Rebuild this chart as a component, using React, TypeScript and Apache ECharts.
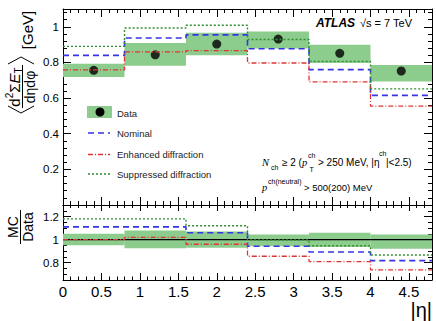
import React, { useEffect, useRef } from 'react';
import * as echarts from 'echarts';

const binEdges = [0, 0.8, 1.6, 2.4, 3.2, 4.0, 4.8];
const dataValues = [0.756, 0.843, 0.903, 0.931, 0.851, 0.752];
const bandLow = [0.719, 0.782, 0.84, 0.879, 0.797, 0.693];
const bandHigh = [0.793, 0.909, 0.967, 0.974, 0.9, 0.786];
const nominal = [0.84, 0.937, 0.955, 0.877, 0.76, 0.615];
const enhanced = [0.758, 0.859, 0.866, 0.797, 0.691, 0.555];
const suppressed = [0.89, 0.993, 1.009, 0.929, 0.806, 0.652];
const ratioBandLow = [0.952, 0.925, 0.93, 0.943, 0.937, 0.92];
const ratioBandHigh = [1.05, 1.08, 1.07, 1.045, 1.06, 1.045];
const ratioNominal = [1.11, 1.11, 1.06, 0.942, 0.893, 0.818];
const ratioEnhanced = [1.0, 1.02, 0.96, 0.856, 0.81, 0.738];
const ratioSuppressed = [1.18, 1.18, 1.12, 0.998, 0.947, 0.867];
const xTickLabels = ['0', '0.5', '1', '1.5', '2', '2.5', '3', '3.5', '4', '4.5'];
const ratioTicks = [0.8, 1, 1.2];

const FONT = 'Liberation Sans, Arial, Helvetica, sans-serif';
const BAND = '#8ccc8c';
const BLUE = '#3535e6';
const RED = '#e03434';
const GREEN = '#2f8f2f';

function stepPoints(vals: number[]) {
  const pts: number[][] = [];
  vals.forEach((v, i) => {
    pts.push([binEdges[i], v]);
    pts.push([binEdges[i + 1], v]);
  });
  return pts;
}

function bandItems(lo: number[], hi: number[]) {
  return lo.map((l, i) => [binEdges[i], binEdges[i + 1], l, hi[i]]);
}

const renderBand = (params: any, api: any) => {
  const p1 = api.coord([api.value(0), api.value(3)]);
  const p2 = api.coord([api.value(1), api.value(2)]);
  return {
    type: 'rect',
    shape: { x: p1[0], y: p1[1], width: p2[0] - p1[0], height: p2[1] - p1[1] },
    style: { fill: BAND },
  };
};

const axisLine = { show: true, onZero: false, lineStyle: { color: '#000', width: 1 } };

function xAxis(grid: number, pos: string, labels: boolean, tickLen: number) {
  return {
    type: 'value',
    gridIndex: grid,
    position: pos,
    min: 0,
    max: 4.8,
    interval: 0.5,
    axisLine,
    axisTick: { show: true, inside: true, length: tickLen, lineStyle: { color: '#000' } },
    minorTick: { show: true, splitNumber: 5, length: tickLen / 2, lineStyle: { color: '#000' } },
    splitLine: { show: false },
    axisLabel: labels
      ? {
          show: true,
          showMaxLabel: false,
          margin: 4,
          fontSize: 15,
          color: '#000',
          fontFamily: FONT,
          formatter: (v: number) => {
            const i = Math.round(v / 0.5);
            return Math.abs(v - i * 0.5) < 1e-6 && xTickLabels[i] !== undefined ? xTickLabels[i] : '';
          },
        }
      : { show: false },
  };
}

function line(name: string, data: number[][], color: string, dash: any, xi: number, yi: number, width = 1.5) {
  return {
    name,
    type: 'line',
    xAxisIndex: xi,
    yAxisIndex: yi,
    data,
    symbol: 'none',
    silent: true,
    lineStyle: { color, width, type: dash },
  };
}

export default function App() {
  const ref = useRef<HTMLDivElement>(null);
  useEffect(() => {
    document.body.style.margin = '0';
    if (!ref.current) return;
    const chart = echarts.init(ref.current, null, { renderer: 'svg' });
    const centers = dataValues.map((v, i) => [(binEdges[i] + binEdges[i + 1]) / 2, v]);
    const txt = (text: string, x: number, y: number, size: number, extra: any = {}) => ({
      type: 'text',
      x,
      y,
      silent: true,
      style: {
        text,
        fontSize: size,
        fontFamily: FONT,
        fill: '#000',
        textAlign: 'left',
        textVerticalAlign: 'middle',
        verticalAlign: 'middle',
        ...extra,
      },
    });
    const option: any = {
      animation: false,
      grid: [
        { left: 63, right: 4, top: 9, height: 196 },
        { left: 63, right: 4, top: 205, height: 75 },
      ],
      xAxis: [
        xAxis(0, 'bottom', false, 8),
        xAxis(0, 'top', false, 8),
        xAxis(1, 'bottom', true, 7),
        xAxis(1, 'top', false, 6),
      ],
      yAxis: [
        {
          type: 'value', gridIndex: 0, position: 'left', min: 0, max: 1.1, interval: 0.2,
          axisLine,
          axisTick: { show: true, inside: true, length: 8, lineStyle: { color: '#000' } },
          minorTick: { show: true, splitNumber: 5, length: 4, lineStyle: { color: '#000' } },
          splitLine: { show: false },
          axisLabel: { show: true, showMinLabel: false, showMaxLabel: false, margin: 4, fontSize: 11.5, color: '#000', fontFamily: FONT },
        },
        {
          type: 'value', gridIndex: 0, position: 'right', min: 0, max: 1.1, interval: 0.2,
          axisLine,
          axisTick: { show: true, inside: true, length: 8, lineStyle: { color: '#000' } },
          minorTick: { show: true, splitNumber: 5, length: 4, lineStyle: { color: '#000' } },
          splitLine: { show: false },
          axisLabel: { show: false },
        },
        {
          type: 'value', gridIndex: 1, position: 'left', min: 0.65, max: 1.3, interval: 0.05,
          axisLine,
          axisTick: { show: true, inside: true, length: 4, lineStyle: { color: '#000' } },
          splitLine: { show: false },
          axisLabel: { show: false },
        },
        {
          type: 'value', gridIndex: 1, position: 'right', min: 0.65, max: 1.3, interval: 0.05,
          axisLine,
          axisTick: { show: true, inside: true, length: 4, lineStyle: { color: '#000' } },
          splitLine: { show: false },
          axisLabel: { show: false },
        },
        {
          type: 'value', gridIndex: 1, position: 'left', min: 0.65, max: 1.3,
          axisLine: { show: false, onZero: false },
          axisTick: { show: true, inside: true, length: 8, customValues: ratioTicks, lineStyle: { color: '#000' } },
          splitLine: { show: false },
          axisLabel: {
            show: true, customValues: ratioTicks, margin: 4, fontSize: 11.5, color: '#000', fontFamily: FONT,
            formatter: (v: number) => String(Math.round(v * 10) / 10),
          },
        },
        {
          type: 'value', gridIndex: 1, position: 'right', min: 0.65, max: 1.3,
          axisLine: { show: false, onZero: false },
          axisTick: { show: true, inside: true, length: 8, customValues: ratioTicks, lineStyle: { color: '#000' } },
          splitLine: { show: false },
          axisLabel: { show: false },
        },
      ],
      series: [
        {
          type: 'custom', xAxisIndex: 0, yAxisIndex: 0, renderItem: renderBand,
          data: bandItems(bandLow, bandHigh), encode: { x: [0, 1], y: [2, 3] }, silent: true, clip: true,
        },
        line('Nominal', stepPoints(nominal), BLUE, [6, 4], 0, 0, 1.6),
        line('Enhanced diffraction', stepPoints(enhanced), RED, [5, 2, 1, 2], 0, 0, 1.3),
        line('Suppressed diffraction', stepPoints(suppressed), GREEN, [2, 2], 0, 0, 1.4),
        {
          name: 'Data', type: 'scatter', xAxisIndex: 0, yAxisIndex: 0, data: centers,
          symbol: 'circle', symbolSize: 9, itemStyle: { color: '#000' }, silent: true,
        },
        {
          type: 'custom', xAxisIndex: 2, yAxisIndex: 2, renderItem: renderBand,
          data: bandItems(ratioBandLow, ratioBandHigh), encode: { x: [0, 1], y: [2, 3] }, silent: true, clip: true,
        },
        line('unity', [[0, 1], [4.8, 1]], '#000', 'solid', 2, 2, 1.3),
        line('Nominal ratio', stepPoints(ratioNominal), BLUE, [6, 4], 2, 2, 1.6),
        line('Enhanced ratio', stepPoints(ratioEnhanced), RED, [5, 2, 1, 2], 2, 2, 1.3),
        line('Suppressed ratio', stepPoints(ratioSuppressed), GREEN, [2, 2], 2, 2, 1.4),
      ],
      graphic: [
        // Legend
        { type: 'rect', shape: { x: 87, y: 106, width: 25, height: 12 }, style: { fill: BAND }, silent: true },
        { type: 'circle', shape: { cx: 100, cy: 112, r: 4.5 }, style: { fill: '#000' }, silent: true },
        txt('Data', 117, 113, 9.5, { fill: '#222' }),
        { type: 'line', shape: { x1: 88, y1: 133, x2: 110, y2: 133 }, style: { stroke: BLUE, lineWidth: 1.6, lineDash: [6, 4] }, silent: true },
        txt('Nominal', 117, 133, 9.5, { fill: '#222' }),
        { type: 'line', shape: { x1: 88, y1: 154.5, x2: 110, y2: 154.5 }, style: { stroke: RED, lineWidth: 1.3, lineDash: [5, 2, 1, 2] }, silent: true },
        txt('Enhanced diffraction', 117, 154.5, 9.5, { fill: '#222' }),
        { type: 'line', shape: { x1: 88, y1: 174, x2: 110, y2: 174 }, style: { stroke: GREEN, lineWidth: 1.4, lineDash: [2, 2] }, silent: true },
        txt('Suppressed diffraction', 117, 174, 9.5, { fill: '#222' }),
        // ATLAS label
        txt('ATLAS', 316, 23, 12, { fontWeight: 'bold', fontStyle: 'italic' }),
        txt('√s = 7 TeV', 360, 23, 11),
        // Selection text line 1
        txt('N', 262, 162, 10.5, { fontStyle: 'italic', fontFamily: 'Liberation Serif, serif' }),
        txt('ch', 271, 167, 7),
        txt('≥ 2 (', 282, 162, 10),
        txt('p', 302, 162, 10.5, { fontStyle: 'italic', fontFamily: 'Liberation Serif, serif' }),
        txt('ch', 308, 155.5, 7),
        txt('T', 309.5, 169, 7),
        txt('> 250 MeV, |η', 318, 162, 10),
        txt('ch', 379, 153, 7),
        txt('|<2.5)', 386, 162, 10),
        // Selection text line 2
        txt('p', 262, 187, 10.5, { fontStyle: 'italic', fontFamily: 'Liberation Serif, serif' }),
        txt('ch(neutral)', 268, 181, 7),
        txt('> 500(200) MeV', 304, 187.5, 9.5),
        // Axis title top
        {
          type: 'text', x: 27, y: 30, rotation: Math.PI / 2, silent: true,
          style: { text: '[GeV]', fontSize: 15, fontFamily: FONT, fill: '#000', textAlign: 'center', textVerticalAlign: 'middle', verticalAlign: 'middle' },
        },
        {
          type: 'text', x: 14, y: 87, rotation: Math.PI / 2, silent: true,
          style: {
            text: '{n|d}{s|2}{n|Σ}{i|E}{b|T}',
            textAlign: 'center', textVerticalAlign: 'middle', verticalAlign: 'middle', fill: '#000',
            rich: {
              n: { fontSize: 15, fontFamily: FONT, lineHeight: 19, verticalAlign: 'middle' },
              i: { fontSize: 15, fontFamily: FONT, fontStyle: 'italic', lineHeight: 19, verticalAlign: 'middle' },
              s: { fontSize: 10, fontFamily: FONT, lineHeight: 19, verticalAlign: 'top' },
              b: { fontSize: 10, fontFamily: FONT, lineHeight: 19, verticalAlign: 'bottom' },
            },
          },
        },
        { type: 'line', shape: { x1: 22.5, y1: 65, x2: 22.5, y2: 108 }, style: { stroke: '#000', lineWidth: 1 }, silent: true },
        {
          type: 'text', x: 29.5, y: 87, rotation: Math.PI / 2, silent: true,
          style: { text: 'dηdφ', fontSize: 14, fontFamily: FONT, fill: '#000', textAlign: 'center', textVerticalAlign: 'middle', verticalAlign: 'middle' },
        },
        { type: 'polyline', shape: { points: [[8, 64], [21, 57], [34, 64]] }, style: { stroke: '#000', lineWidth: 1, fill: null }, silent: true },
        { type: 'polyline', shape: { points: [[8, 106], [21, 113], [34, 106]] }, style: { stroke: '#000', lineWidth: 1, fill: null }, silent: true },
        // Axis title bottom
        {
          type: 'text', x: 13, y: 227, rotation: Math.PI / 2, silent: true,
          style: { text: 'MC', fontSize: 14, fontFamily: FONT, fill: '#000', textAlign: 'center', textVerticalAlign: 'middle', verticalAlign: 'middle' },
        },
        { type: 'line', shape: { x1: 20.5, y1: 210, x2: 20.5, y2: 244 }, style: { stroke: '#000', lineWidth: 1 }, silent: true },
        {
          type: 'text', x: 28, y: 227, rotation: Math.PI / 2, silent: true,
          style: { text: 'Data', fontSize: 14, fontFamily: FONT, fill: '#000', textAlign: 'center', textVerticalAlign: 'middle', verticalAlign: 'middle' },
        },
        // x axis title
        txt('|η|', 432, 309.5, 20, { textAlign: 'right' }),
      ],
    };
    chart.setOption(option);
    return () => chart.dispose();
  }, []);
  return <div ref={ref} style={{ width: 436, height: 321 }} />;
}
